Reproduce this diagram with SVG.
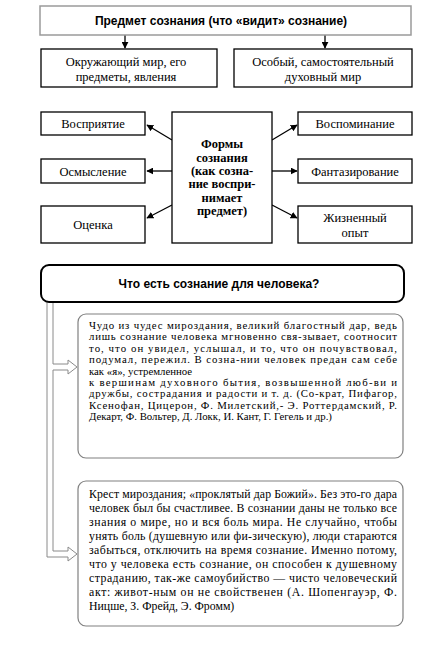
<svg xmlns="http://www.w3.org/2000/svg" width="423" height="648" viewBox="0 0 423 648">
<defs>
<style>
.sans{font-family:'Liberation Sans',Arial,sans-serif;font-weight:bold;font-size:12px;fill:#000}
.ser{font-size:12.5px;fill:#000}
.serb{font-size:12.5px;font-weight:bold;fill:#000}
.p1{font-size:10.8px;fill:#000}
.p2{font-size:11.8px;fill:#000}
.box{fill:#fff;stroke:#000;stroke-width:1.3}
.ln{stroke:#000;stroke-width:1.3;fill:none}
</style>
<marker id="ah" viewBox="0 0 10 10" refX="9" refY="5" markerWidth="7" markerHeight="7" markerUnits="userSpaceOnUse" orient="auto">
<path d="M0,0 L10,5 L0,10 z" fill="#000"/>
</marker>
</defs>
<rect width="423" height="648" fill="#fff"/>

<g id="connectors">
<line class="ln" x1="125" y1="35" x2="125" y2="48" marker-end="url(#ah)"/>
<line class="ln" x1="325" y1="35" x2="325" y2="48" marker-end="url(#ah)"/>
<line class="ln" x1="172" y1="140" x2="147" y2="125" marker-end="url(#ah)"/>
<line class="ln" x1="172" y1="171" x2="147" y2="171" marker-end="url(#ah)"/>
<line class="ln" x1="172" y1="205" x2="147" y2="218" marker-end="url(#ah)"/>
<line class="ln" x1="272" y1="140" x2="297" y2="125" marker-end="url(#ah)"/>
<line class="ln" x1="272" y1="171" x2="297" y2="171" marker-end="url(#ah)"/>
<line class="ln" x1="272" y1="205" x2="297" y2="218" marker-end="url(#ah)"/>
<path d="M47,302 L47,557 L68,557 L68,561 L77,554 L68,547 L68,551 L53,551 L53,370 L68,370 L68,374 L77,367 L68,360 L68,364 L53,364 L53,302" fill="#fff" stroke="#8a8a8a" stroke-width="1"/>
</g>

<g id="subject">
<rect x="40" y="6" width="371" height="29" fill="#fff" stroke="#9a9a9a" stroke-width="1.5"/>
<text class="sans" x="221" y="24.5" text-anchor="middle">Предмет сознания (что «видит» сознание)</text>
</g>
<g font-family="Liberation Serif, Times New Roman, serif">
<g id="world">
<rect class="box" x="41" y="49" width="176" height="38"/>
<text class="ser" x="126" y="66" text-anchor="middle">Окружающий мир, его</text>
<text class="ser" x="126" y="81" text-anchor="middle">предметы, явления</text>
</g>
<g id="spirit">
<rect class="box" x="234" y="49" width="178" height="38"/>
<text class="ser" x="323" y="66" text-anchor="middle">Особый, самостоятельный</text>
<text class="ser" x="323" y="81" text-anchor="middle">духовный мир</text>
</g>

<g id="forms">
<rect class="box" x="172" y="112" width="100" height="131"/>
<text class="serb" x="222" y="148" text-anchor="middle">Формы</text>
<text class="serb" x="222" y="161.5" text-anchor="middle">сознания</text>
<text class="serb" x="222" y="175" text-anchor="middle">(как созна-</text>
<text class="serb" x="222" y="188" text-anchor="middle">ние воспри-</text>
<text class="serb" x="222" y="201.5" text-anchor="middle">нимает</text>
<text class="serb" x="222" y="215" text-anchor="middle">предмет)</text>
</g>
<g id="perception">
<rect class="box" x="41" y="112" width="104" height="23"/>
<text class="ser" x="93" y="128" text-anchor="middle">Восприятие</text>
</g>
<g id="comprehension">
<rect class="box" x="41" y="159" width="104" height="24"/>
<text class="ser" x="93" y="175.5" text-anchor="middle">Осмысление</text>
</g>
<g id="evaluation">
<rect class="box" x="41" y="206" width="104" height="37"/>
<text class="ser" x="93" y="229" text-anchor="middle">Оценка</text>
</g>
<g id="memory">
<rect class="box" x="298" y="112" width="114" height="23"/>
<text class="ser" x="355" y="128" text-anchor="middle">Воспоминание</text>
</g>
<g id="fantasy">
<rect class="box" x="298" y="159" width="114" height="24"/>
<text class="ser" x="355" y="175.5" text-anchor="middle">Фантазирование</text>
</g>
<g id="experience">
<rect class="box" x="298" y="206" width="114" height="37"/>
<text class="ser" x="355" y="222" text-anchor="middle">Жизненный</text>
<text class="ser" x="355" y="237" text-anchor="middle">опыт</text>
</g>
</g>

<g id="question">
<rect x="41" y="265" width="363" height="37" rx="8" fill="#fff" stroke="#000" stroke-width="2"/>
<text class="sans" x="219" y="287.5" text-anchor="middle">Что есть сознание для человека?</text>
</g>

<g font-family="Liberation Serif, Times New Roman, serif">
<g id="miracle">
<rect x="78" y="314" width="325" height="144" rx="8" fill="#fff" stroke="#808080" stroke-width="1.2"/>
<text class="p1" x="89" y="329" textLength="308" lengthAdjust="spacing">Чудо из чудес мироздания, великий благостный дар, ведь</text>
<text class="p1" x="89" y="340.4" textLength="308" lengthAdjust="spacing">лишь сознание человека мгновенно свя-зывает, соотносит</text>
<text class="p1" x="89" y="351.8" textLength="308" lengthAdjust="spacing">то, что он увидел, услышал, и то, что он почувствовал,</text>
<text class="p1" x="89" y="363.2" textLength="308" lengthAdjust="spacing">подумал, пережил. В созна-нии человек предан сам себе</text>
<text class="p1" x="89" y="374.6">как «я», устремленное</text>
<text class="p1" x="89" y="386" textLength="308" lengthAdjust="spacing">к вершинам духовного бытия, возвышенной люб-ви и</text>
<text class="p1" x="89" y="397.4" textLength="308" lengthAdjust="spacing">дружбы, сострадания и радости и т. д. (Со-крат, Пифагор,</text>
<text class="p1" x="89" y="408.8" textLength="308" lengthAdjust="spacing">Ксенофан, Цицерон, Ф. Милетский,- Э. Роттердамский, Р.</text>
<text class="p1" x="89" y="420.2">Декарт, Ф. Вольтер, Д. Локк, И. Кант, Г. Гегель и др.)</text>
</g>

<g id="cross">
<rect x="78" y="481" width="325" height="145" rx="8" fill="#fff" stroke="#808080" stroke-width="1.2"/>
<text class="p2" x="89" y="498" textLength="308" lengthAdjust="spacing">Крест мироздания; «проклятый дар Божий». Без это-го дара</text>
<text class="p2" x="89" y="512" textLength="308" lengthAdjust="spacing">человек был бы счастливее. В сознании даны не только все</text>
<text class="p2" x="89" y="526" textLength="308" lengthAdjust="spacing">знания о мире, но и вся боль мира. Не случайно, чтобы</text>
<text class="p2" x="89" y="540" textLength="308" lengthAdjust="spacing">унять боль (душевную или фи-зическую), люди стараются</text>
<text class="p2" x="89" y="554" textLength="308" lengthAdjust="spacing">забыться, отключить на время сознание. Именно потому,</text>
<text class="p2" x="89" y="568" textLength="308" lengthAdjust="spacing">что у человека есть сознание, он способен к душевному</text>
<text class="p2" x="89" y="582" textLength="308" lengthAdjust="spacing">страданию, так-же самоубийство — чисто человеческий</text>
<text class="p2" x="89" y="596" textLength="308" lengthAdjust="spacing">акт: живот-ным он не свойственен (А. Шопенгауэр, Ф.</text>
<text class="p2" x="89" y="610">Ницше, З. Фрейд, Э. Фромм)</text>
</g>
</g>
</svg>
